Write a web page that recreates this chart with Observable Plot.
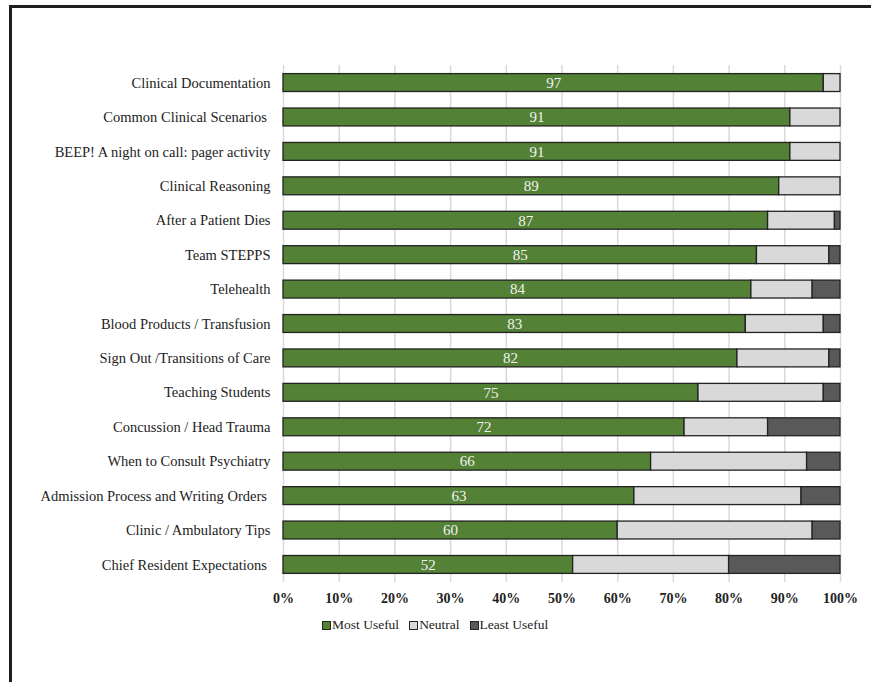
<!DOCTYPE html>
<html>
<head>
<meta charset="utf-8">
<script src="https://cdn.jsdelivr.net/npm/d3@7"></script>
<script src="https://cdn.jsdelivr.net/npm/@observablehq/plot@0.6"></script>
<style>
  html, body { margin: 0; padding: 0; background: #fff; overflow: hidden; }
  body { width: 871px; height: 682px; position: relative; font-family: "Liberation Serif", "Times New Roman", serif; }
  #frame { position: absolute; left: 9px; top: 5px; width: 900px; height: 720px; border: 3px solid #1e1e1e; box-sizing: border-box; }
  #chart { position: absolute; left: 0; top: 0; }
  #legend { position: absolute; left: 322px; top: 616px; display: flex; font-size: 13.5px; color: #222; line-height: 18px; }
  #legend .item { display: flex; align-items: center; margin-right: 10px; }
  #legend .sw { width: 7px; height: 7px; border: 1px solid #262626; margin-right: 1px; }
</style>
</head>
<body>
<div id="frame"></div>
<div id="chart"></div>
<div id="legend"></div>
<script>
const categories = [
  "Clinical Documentation",
  "Common Clinical Scenarios\u00a0",
  "BEEP! A night on call: pager activity",
  "Clinical Reasoning",
  "After a Patient Dies",
  "Team STEPPS",
  "Telehealth",
  "Blood Products / Transfusion",
  "Sign Out /Transitions of Care",
  "Teaching Students",
  "Concussion / Head Trauma",
  "When to Consult Psychiatry",
  "Admission Process and Writing Orders\u00a0",
  "Clinic / Ambulatory Tips",
  "Chief Resident Expectations\u00a0"
];
const mostUseful  = [97, 91, 91, 89, 87, 85, 84, 83, 81.5, 74.5, 72, 66, 63, 60, 52];
const neutral     = [3, 9, 9, 11, 12, 13, 11, 14, 16.5, 22.5, 15, 28, 30, 35, 28];
const leastUseful = [0, 0, 0, 0, 1, 2, 5, 3, 2, 3, 13, 6, 7, 5, 20];
const seriesNames = ["Most Useful", "Neutral", "Least Useful"];
const seriesColors = ["#538135", "#d9d9d9", "#595959"];
const xTicks = [0, 10, 20, 30, 40, 50, 60, 70, 80, 90, 100];

const seriesValues = [mostUseful, neutral, leastUseful];
const rows = [];
categories.forEach((c, i) => {
  seriesNames.forEach((s, j) => {
    rows.push({topic: c, series: s, value: seriesValues[j][i]});
  });
});
const labelRows = categories.map((c, i) => ({topic: c, value: mostUseful[i]}));

const chart = Plot.plot({
  width: 871,
  height: 614,
  marginLeft: 283,
  marginRight: 31,
  marginTop: 65,
  marginBottom: 32,
  style: {fontFamily: "'Liberation Serif', 'Times New Roman', serif", fontSize: "14px", color: "#222", background: "transparent"},
  x: {domain: [0, 100], ticks: xTicks, tickFormat: d => d + "%", label: null},
  y: {domain: categories, paddingInner: 0.48, paddingOuter: 0.25, round: false, label: null},
  color: {domain: seriesNames, range: seriesColors},
  marks: [
    Plot.gridX(xTicks, {stroke: "#d9d9d9", strokeOpacity: 1, strokeWidth: 1.5}),
    Plot.barX(rows, Plot.stackX({x: "value", y: "topic", fill: "series", stroke: "#222", strokeWidth: 1.3})),
    Plot.text(labelRows, {x: d => d.value / 2, y: "topic", text: d => String(Math.round(d.value)), fill: "#f2f2f2", fontSize: 15}),
    Plot.axisX(xTicks, {tickSize: 0, tickPadding: 11, fontWeight: "bold", fontSize: 14, label: null, tickFormat: d => d + "%"}),
    Plot.axisY({tickSize: 0, tickPadding: 13, fontSize: 14.5, label: null})
  ]
});
document.getElementById("chart").appendChild(chart);

const legend = document.getElementById("legend");
seriesNames.forEach((s, j) => {
  const item = document.createElement("div");
  item.className = "item";
  const sw = document.createElement("div");
  sw.className = "sw";
  sw.style.background = seriesColors[j];
  const t = document.createElement("span");
  t.textContent = s;
  item.appendChild(sw);
  item.appendChild(t);
  legend.appendChild(item);
});
</script>
</body>
</html>
